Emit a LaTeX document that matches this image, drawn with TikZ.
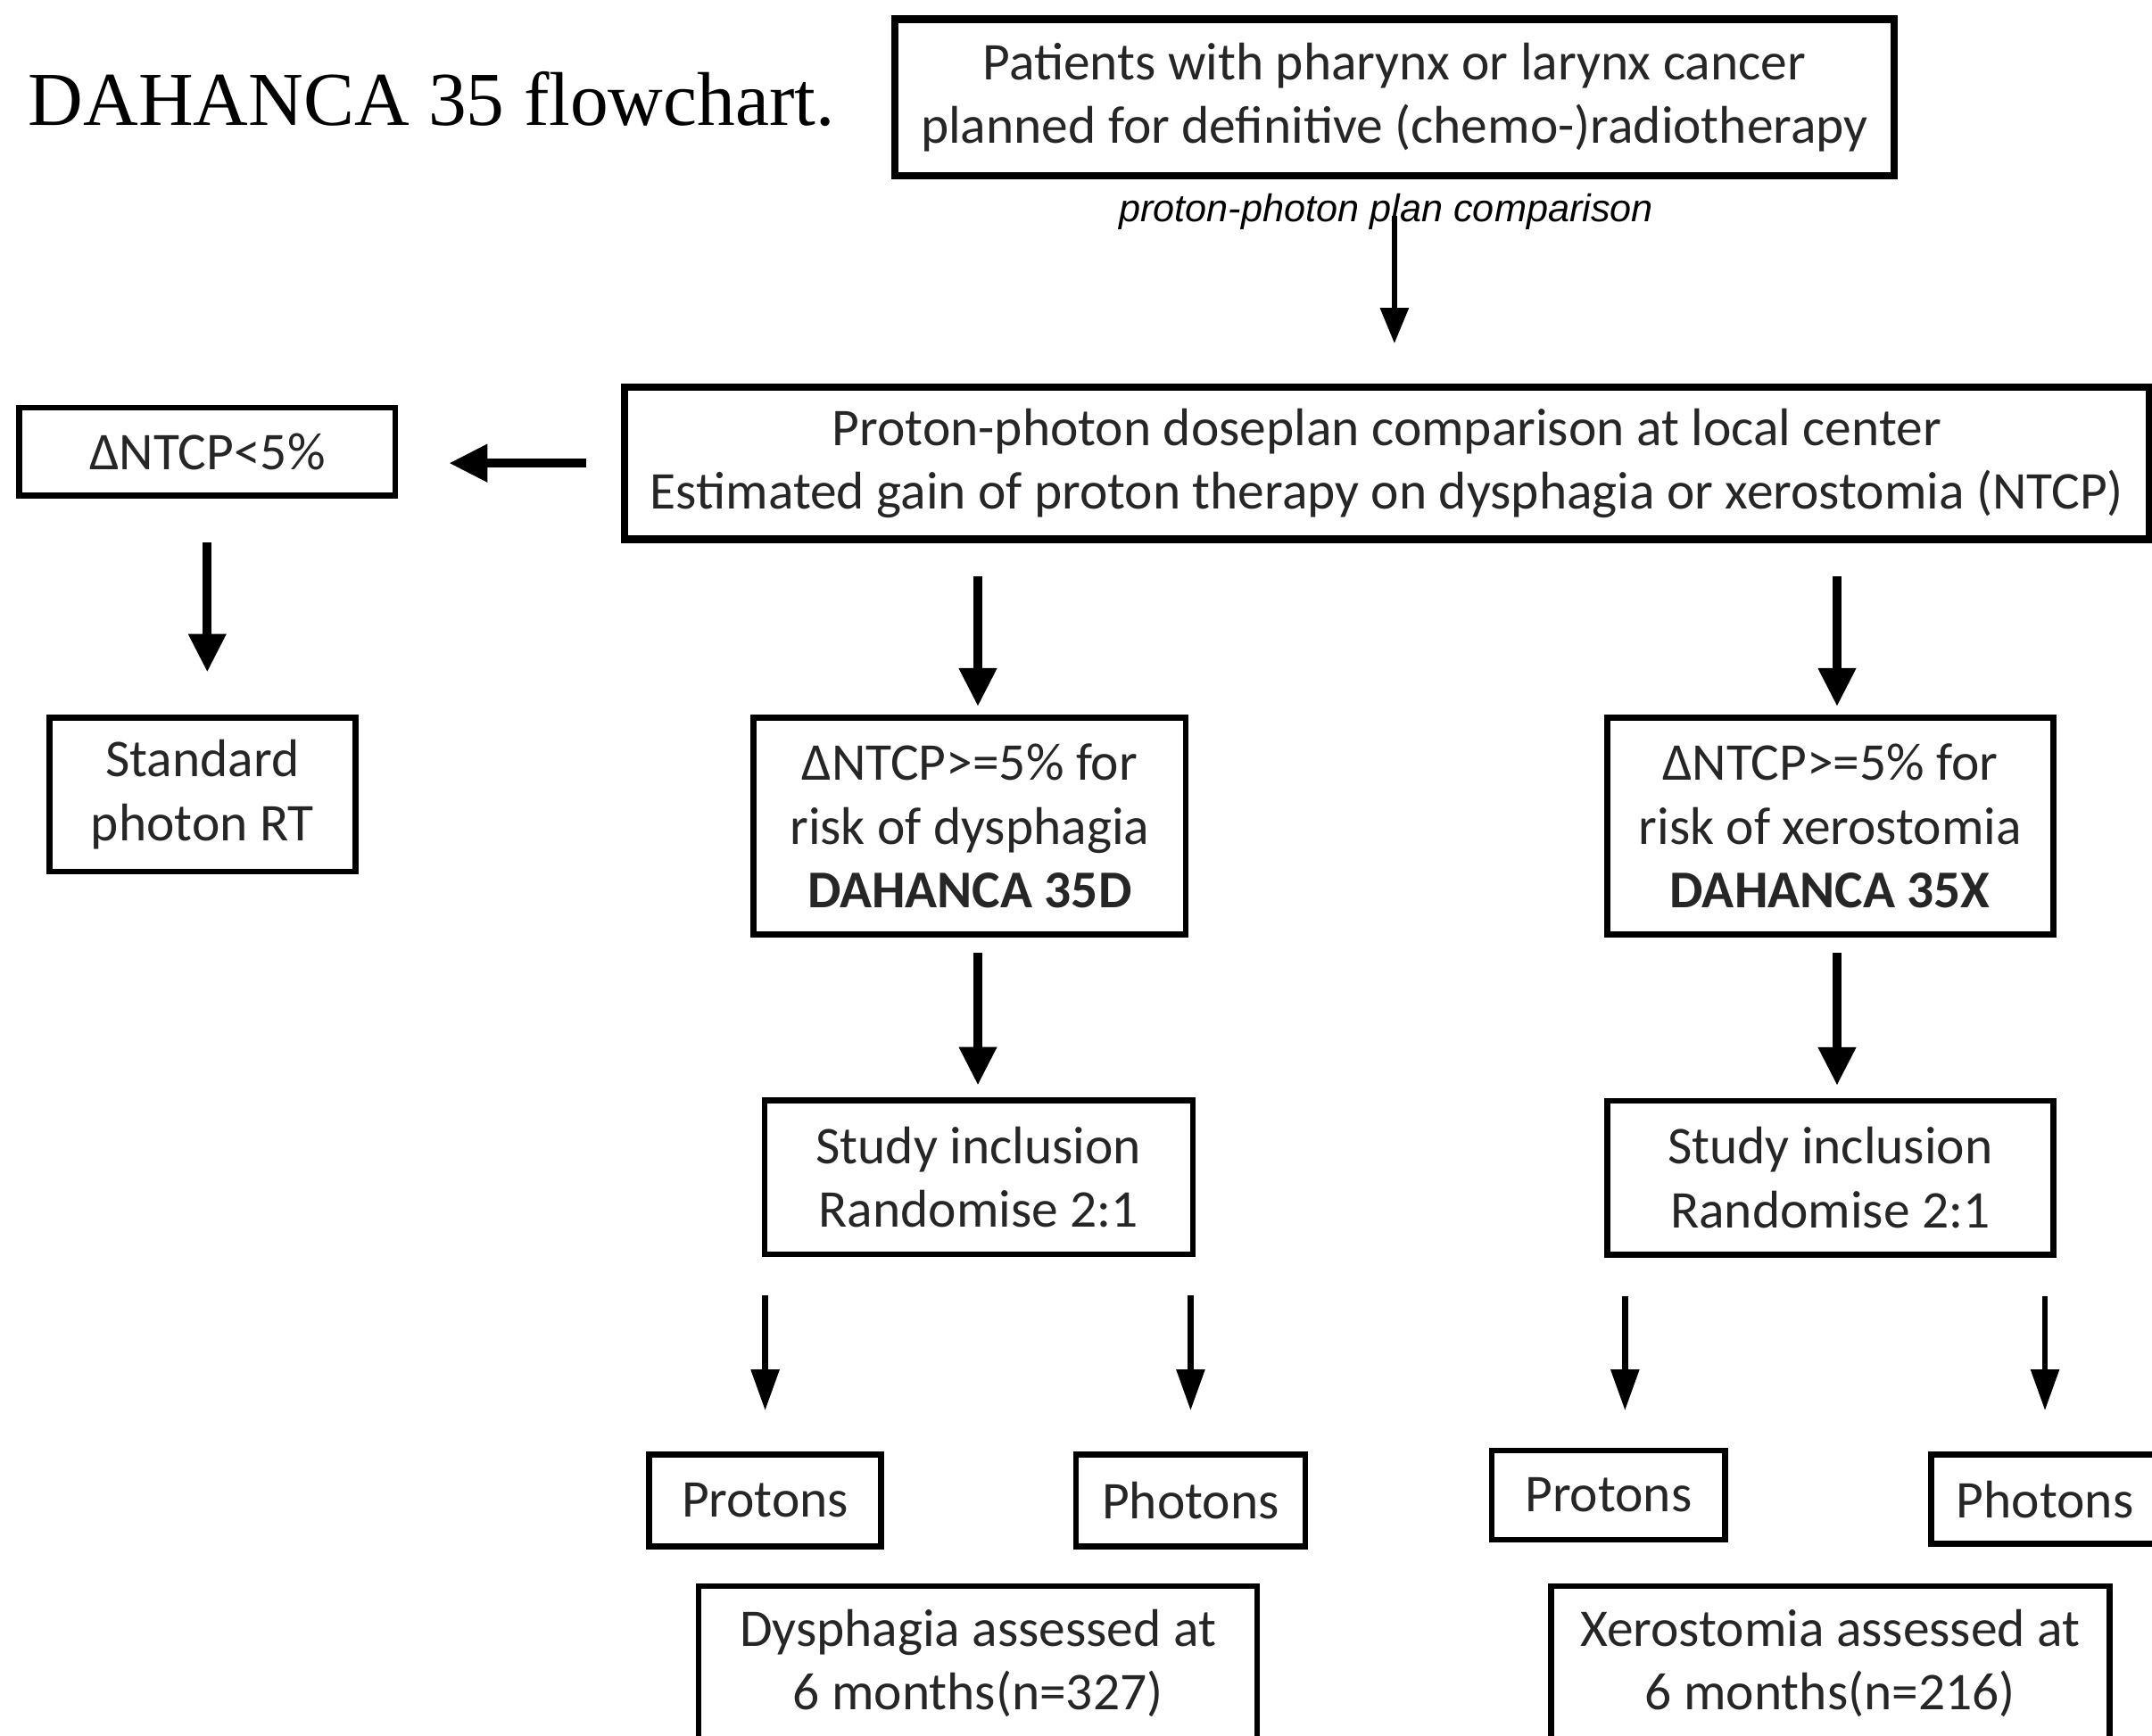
\documentclass[tikz,border=0pt]{standalone}
\usepackage{fontspec}
\setmainfont{Carlito}
\newfontfamily\titlefont{Liberation Serif}
\newfontfamily\notefont{Liberation Sans}
\usetikzlibrary{arrows.meta,positioning}

\begin{document}
\begin{tikzpicture}[font=\fontsize{11}{13.2}\selectfont, text=black!85]
\tikzstyle{box}=[draw=black, line width=1.2pt, align=center, inner sep=0pt];
\tikzstyle{bigbox}=[box, line width=1.5pt];
\tikzstyle{fatarrow}=[line width=1.9pt, -{Triangle[width=0.26cm,length=0.28cm]}];
\tikzstyle{thinarrow}=[line width=1.2pt, -{Triangle[width=0.2cm,length=0.26cm]}];
\tikzstyle{midarrow}=[line width=1.2pt, -{Triangle[width=0.2cm,length=0.3cm]}];
\useasboundingbox (0,0) rectangle (15.68,-12.65);
\node[anchor=west, inner sep=0pt, text=black, font=\titlefont\fontsize{15.8}{18}\selectfont] (title) at (0.2,-0.72) {DAHANCA 35 flowchart.};
\node[bigbox, minimum width=7.28cm, minimum height=1.14cm] (top) at (10.16,-0.71) {Patients with pharynx or larynx cancer\\planned for definitive (chemo-)radiotherapy};
\node[text=black, font=\notefont\itshape\fontsize{8}{9.6}\selectfont] (note) at (10.1,-1.54) {proton-photon plan comparison};
\node[bigbox, minimum width=11.11cm, minimum height=1.11cm] (main) at (10.105,-3.375) {Proton-photon doseplan comparison at local center\\Estimated gain of proton therapy on dysphagia or xerostomia (NTCP)};
\node[box, minimum width=2.74cm, minimum height=0.64cm] (lt5) at (1.51,-3.29) {ΔNTCP<5\%};
\node[box, minimum width=2.23cm, minimum height=1.12cm] (std) at (1.475,-5.79) {Standard\\photon RT};
% dysphagia arm
\node[box, minimum width=3.15cm, minimum height=1.58cm] (dys) at (7.065,-6.02) {ΔNTCP>=5\% for\\risk of dysphagia\\\textbf{DAHANCA 35D}};
\node[box, minimum width=3.12cm, minimum height=1.12cm] (randd) at (7.13,-8.58) {Study inclusion\\Randomise 2:1};
\node[box, minimum width=1.69cm, minimum height=0.67cm] (protd) at (5.575,-10.935) {Protons};
\node[box, minimum width=1.67cm, minimum height=0.67cm] (photd) at (8.675,-10.935) {Photons};
\node[box, minimum width=4.07cm, minimum height=1.12cm] (endd) at (7.125,-12.12) {Dysphagia assessed at\\6 months(n=327)};
% xerostomia arm
\node[box, minimum width=3.25cm, minimum height=1.58cm] (xer) at (13.335,-6.02) {ΔNTCP>=5\% for\\risk of xerostomia\\\textbf{DAHANCA 35X}};
\node[box, minimum width=3.25cm, minimum height=1.12cm] (randx) [below=1.17cm of xer] {Study inclusion\\Randomise 2:1};
\node[box, minimum width=1.70cm, minimum height=0.65cm] (protx) at (11.72,-10.895) {Protons};
\node[box, minimum width=1.66cm, minimum height=0.65cm] (photx) at (14.9,-10.925) {Photons};
\node[box, minimum width=4.07cm, minimum height=1.12cm] (endx) at (13.335,-12.12) {Xerostomia assessed at\\6 months(n=216)};

\path[thinarrow] (top.south) edge[shorten <=0.27cm, shorten >=0.29cm] (top.south |- main.north);
\path[fatarrow] (main.west) edge[shorten <=0.25cm, shorten >=0.37cm] (main.west -| lt5.east);
\path[fatarrow] (lt5) edge[shorten <=0.32cm, shorten >=0.31cm] (lt5 |- std.north);
\path[fatarrow] ([xshift=0.06cm]main.south -| dys.north) edge[shorten <=0.24cm, shorten >=0.06cm] ([xshift=0.06cm]dys.north);
\path[fatarrow] ([xshift=0.05cm]main.south -| xer.north) edge[shorten <=0.24cm, shorten >=0.06cm] ([xshift=0.05cm]xer.north);
\path[fatarrow] ([xshift=0.06cm]dys.south) edge[shorten <=0.11cm, shorten >=0.09cm] ([xshift=0.06cm]dys.south |- randd.north);
\path[fatarrow] ([xshift=0.05cm]xer.south) edge[shorten <=0.11cm, shorten >=0.09cm] ([xshift=0.05cm]randx.north);
\path[midarrow] (randd.south -| protd.north) edge[shorten <=0.28cm, shorten >=0.3cm] (protd.north);
\path[midarrow] (randd.south -| photd.north) edge[shorten <=0.28cm, shorten >=0.3cm] (photd.north);
\path[midarrow] ([xshift=0.12cm]randx.south -| protx.north) edge[shorten <=0.28cm, shorten >=0.27cm] ([xshift=0.12cm]protx.north);
\path[midarrow] (randx.south -| photx.north) edge[shorten <=0.28cm, shorten >=0.3cm] (photx.north);
\end{tikzpicture}
\end{document}
